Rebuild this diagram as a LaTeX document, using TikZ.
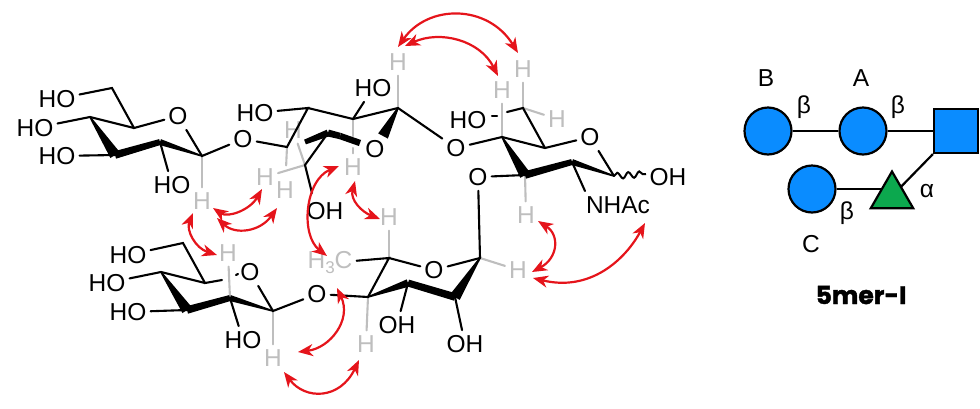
\documentclass[tikz,border=0pt]{standalone}
\usepackage{fontspec}
\setmainfont{Liberation Sans}
\newfontfamily\heavyfont[FakeBold=1.6]{Poppins Bold}
\usetikzlibrary{calc,arrows.meta,decorations.pathmorphing,shapes.geometric,backgrounds}
\definecolor{hgray}{HTML}{BEBEBE}
\definecolor{nred}{HTML}{E5141B}
\definecolor{gblue}{HTML}{0A8CFF}
\definecolor{ggreen}{HTML}{0CA84E}
\tikzset{
  atomlabel/.style={inner xsep=4pt,inner ysep=5pt,font=\fontsize{24.5}{25}\selectfont,text=black},
  hlabel/.style={atomlabel,text=hgray},
  bondline/.style={draw=black,line width=2.1pt,line cap=round},
  grayline/.style={draw=hgray,line width=2.1pt,line cap=round},
  noe/.style={draw=nred,line width=2.2pt,{Stealth[length=15pt,width=12pt,inset=4.5pt]}-{Stealth[length=15pt,width=12pt,inset=4.5pt]}},
  glabel/.style={inner sep=0pt,font=\fontsize{24.5}{25}\selectfont},
  glink/.style={draw=black,line width=2.2pt},
  mono/.style={draw=black,line width=2.2pt,fill=gblue},
}
\newcommand\taper[4]{\fill[black] ($(#1)!#2!90:(#3)$) -- ($(#1)!#2!-90:(#3)$) -- ($(#3)!#4!90:(#1)$) -- ($(#3)!#4!-90:(#1)$) -- cycle;}
\begin{document}
\begin{tikzpicture}[x=1pt,y=-1pt]
\useasboundingbox (0,0) rectangle (980,408);

% ---------- atoms: ring B
\coordinate (bA) at (112,88);
\coordinate (b5) at (134,128);
\coordinate (b1) at (202,156);
\coordinate (b2) at (160,142);
\coordinate (b3) at (115,155);
\coordinate (b4) at (90,117);
\node[atomlabel] (bO) at (178,116) {O};
\node[atomlabel] (bH1) at (57,99) {HO};
\node[atomlabel] (bH2) at (35,128) {HO};
\node[atomlabel] (bH3) at (57,156) {HO};
\node[atomlabel] (bH4) at (172,185) {HO};
\node[atomlabel] (gO1) at (243,139) {O};
\node[hlabel] (bH) at (202,201) {H};

% ---------- atoms: ring A
\coordinate (a4) at (287,147);
\coordinate (a3) at (308,108);
\coordinate (a2) at (353,119);
\coordinate (a1) at (398,108);
\coordinate (a5) at (305,165);
\coordinate (a5s) at (328,133);
\coordinate (aB1) at (305,142);
\coordinate (aB2) at (340,136);
\coordinate (aB3) at (360,143);
\coordinate (aW) at (383,136);
\coordinate (aOHe) at (312,193);
\node[atomlabel] (aOr) at (375,149) {O};
\node[atomlabel] (aHO1) at (255,113) {HO};
\node[atomlabel] (aHO2) at (373,88) {HO};
\node[atomlabel] (aOH) at (325,211) {OH};
\node[hlabel] (aH1) at (398,62) {H};
\node[hlabel] (aH2) at (353,167) {H};
\node[hlabel] (aH3) at (293,130) {H};
\node[hlabel] (aH4) at (285,190) {H};
\node[hlabel] (aH5) at (265,177) {H};
\node[atomlabel] (gO2) at (456,148) {O};

% ---------- atoms: GlcNAc ring
\coordinate (n4) at (502,137);
\coordinate (n3) at (525,175);
\coordinate (n2) at (572,162);
\coordinate (n1) at (614,176);
\coordinate (n5) at (545,148);
\coordinate (n6) at (523,108);
\coordinate (n7) at (507,112);
\coordinate (n8) at (497,116);
\coordinate (n9) at (492,116);
\coordinate (nW) at (646,174);
\coordinate (nNe) at (585,191);
\node[atomlabel] (nO) at (590,137) {O};
\node[atomlabel] (nHO) at (468,120) {HO};
\node[atomlabel] (nOH) at (668,177) {OH};
\node[atomlabel] (nNH) at (618,205) {NHAc};
\node[atomlabel] (gO3) at (478,177) {O};
\node[hlabel] (nH1) at (502,90) {H};
\node[hlabel] (nH2) at (523,69) {H};
\node[hlabel] (nH3) at (557,119) {H};
\node[hlabel] (nH4) at (526,215) {H};

% ---------- atoms: fucose ring
\coordinate (f1) at (480,258);
\coordinate (f5) at (389,258);
\coordinate (f4) at (368,297);
\coordinate (f3) at (408,283);
\coordinate (f2) at (455,297);
\node[atomlabel] (fO) at (434,270) {O};
\node[atomlabel] (fOH1) at (397,325) {OH};
\node[atomlabel] (fOH2) at (465,344) {OH};
\node[hlabel] (fCH) at (330,263) {H\raisebox{-5pt}{\fontsize{17}{17}\selectfont 3}C};
\node[hlabel] (fH1) at (518,270) {H};
\node[hlabel] (fH5) at (389,217) {H};
\node[hlabel] (fH4) at (366,344) {H};
\node[atomlabel] (gO4) at (317,294) {O};

% ---------- atoms: ring C
\coordinate (cA) at (183,243);
\coordinate (c5) at (205,283);
\coordinate (c1) at (273,311);
\coordinate (c2) at (230,298);
\coordinate (c3) at (187,310);
\coordinate (c4) at (161,272);
\coordinate (cGa) at (222,280);
\coordinate (cGb) at (236,275);
\coordinate (cGc) at (238,274);
\node[atomlabel] (cO) at (250,272) {O};
\node[atomlabel] (cH1) at (128,255) {HO};
\node[atomlabel] (cH2) at (107,283) {HO};
\node[atomlabel] (cH3) at (128,312) {HO};
\node[atomlabel] (cH4) at (243,340) {HO};
\node[hlabel] (cHa) at (228,253) {H};
\node[hlabel] (cHb) at (273,358) {H};

% ---------- gray bonds
\draw[grayline] (b1) -- (bH);
\draw[grayline] (a1) -- (aH1);
\draw[grayline] (a2) -- ($(a2)+(0,17)$);
\draw[grayline] ($(a2)+(0,29)$) -- (aH2);
\draw[grayline] (a5) -- (aH3);
\draw[grayline,shorten >=11pt] (a4) -- (aH4);
\draw[grayline] (a5) -- (aH5);
\draw[grayline] (n4) -- (nH1);
\draw[grayline] (n6) -- (nH2);
\draw[grayline] (n6) -- (nH3);
\draw[grayline] (n3) -- (nH4);
\draw[grayline] (f1) -- (fH1);
\draw[grayline] (f5) -- (fH5);
\draw[grayline] (f4) -- (fH4);
\draw[grayline] (c2) -- (cHa);
\draw[grayline] (c1) -- (cHb);

% ---------- black bonds
\draw[bondline] (bH1) -- (bA) -- (b5) -- (bO) -- (b1) -- (gO1);
\draw[bondline] (b5) -- (b4) -- (bH2);
\draw[bondline] (bH3) -- (b3);
\draw[bondline] (b2) -- (bH4);
\taper{b4}{0.8pt}{b3}{5.5pt}
\taper{b3}{3.8pt}{b2}{3pt}
\taper{b2}{3pt}{b1}{0.8pt}

\draw[bondline] (gO1) -- (a4) -- (a3) -- (aHO1);
\draw[bondline] (a3) -- (a2) -- (a1) -- (gO2);
\draw[bondline] (a2) -- (aHO2);
\draw[bondline] (a5s) -- (a5) -- (aOHe);
\taper{aB1}{2.5pt}{a5s}{3.5pt}
\taper{a5s}{3.5pt}{aB2}{3.2pt}
\taper{aB2}{3.2pt}{aB3}{3.2pt}
\taper{a1}{0.8pt}{aW}{5.5pt}

\draw[bondline] (gO2) -- (n4) -- (n5) -- (nO) -- (n1);
\draw[bondline] (n5) -- (n6) -- (n7);
\draw[bondline] (n8) -- (n9);
\draw[bondline] (n3) -- (gO3) -- (f1);
\draw[bondline] (n2) -- (nNe);
\draw[line width=2pt,decorate,decoration={snake,amplitude=3pt,segment length=11pt}] (n1) -- (nW);
\taper{n4}{0.8pt}{n3}{5.5pt}
\taper{n3}{3.8pt}{n2}{3pt}
\taper{n2}{3pt}{n1}{0.8pt}

\draw[bondline] (gO4) -- (f4) -- (f5) -- (fCH);
\draw[bondline] (f5) -- (fO) -- (f1);
\draw[bondline] (f3) -- (fOH1);
\draw[bondline] (f2) -- (fOH2);
\taper{f4}{0.8pt}{f3}{3.8pt}
\taper{f3}{3.5pt}{f2}{3.8pt}
\taper{f2}{5.5pt}{f1}{0.8pt}

\draw[bondline] (cH1) -- (cA) -- (c5) -- (cGa);
\draw[bondline] (cGb) -- (cGc);
\draw[bondline] (c5) -- (c4) -- (cH2);
\draw[bondline] (cH3) -- (c3);
\draw[bondline] (c2) -- (cH4);
\draw[bondline] (cO) -- (c1) -- (gO4);
\taper{c4}{0.8pt}{c3}{5.5pt}
\taper{c3}{3.8pt}{c2}{3pt}
\taper{c2}{3pt}{c1}{0.8pt}

% ---------- NOE arrows
\coordinate (e1a) at (398,47); \coordinate (e1b) at (518,53);
\coordinate (e2a) at (405,46); \coordinate (e2b) at (498,76);
\coordinate (e3a) at (355,181); \coordinate (e3b) at (380,219);
\coordinate (e4a) at (213,208); \coordinate (e4b) at (262,189);
\coordinate (e5a) at (217,218); \coordinate (e5b) at (277,208);
\coordinate (e6a) at (193,213); \coordinate (e6b) at (217,255);
\coordinate (e7a) at (339,166); \coordinate (e7b) at (327,256);
\coordinate (e8a) at (337,288); \coordinate (e8b) at (298,352);
\coordinate (e9a) at (284,372); \coordinate (e9b) at (359,360);
\coordinate (e10a) at (538,221); \coordinate (e10b) at (532,272);
\coordinate (e11a) at (533,278); \coordinate (e11b) at (645,223);
\draw[noe] (e1a) .. controls (428,4) and (488,4) .. (e1b);
\draw[noe] (e2a) .. controls (440,30) and (480,40) .. (e2b);
\draw[noe] (e3a) .. controls (350,200) and (362,212) .. (e3b);
\draw[noe] (e4a) .. controls (228,218) and (250,210) .. (e4b);
\draw[noe] (e5a) .. controls (235,235) and (260,232) .. (e5b);
\draw[noe] (e6a) .. controls (186,230) and (195,248) .. (e6b);
\draw[noe] (e7a) .. controls (305,180) and (300,235) .. (e7b);
\draw[noe] (e8a) .. controls (352,320) and (330,348) .. (e8b);
\draw[noe] (e9a) .. controls (305,400) and (340,400) .. (e9b);
\draw[noe] (e10a) .. controls (560,235) and (558,258) .. (e10b);
\draw[noe] (e11a) .. controls (590,292) and (625,260) .. (e11b);

% ---------- glycan
\node[mono,circle,minimum size=47pt,inner sep=0pt] (B) at (768,131) {};
\node[mono,circle,minimum size=47pt,inner sep=0pt] (A) at (863,131) {};
\node[mono,circle,minimum size=47pt,inner sep=0pt] (C) at (812,189) {};
\node[mono,minimum size=44pt,inner sep=0pt] (S) at (956,131) {};
\node[draw=black,line width=2.2pt,fill=ggreen,regular polygon,regular polygon sides=3,minimum size=49pt,inner sep=0pt] (T) at (892,196) {};
\begin{scope}[on background layer]
\draw[glink] (B) -- (A);
\draw[glink] (A) -- (S);
\draw[glink] (C.east) -- (C.east -| T.center);
\draw[glink] (T.center) -- (S.south west);
\end{scope}
\node[glabel] (lB) at (766,78) {B};
\node[glabel] (lA) at (861,78) {A};
\node[glabel] (lC) at (811,244) {C};
\node[glabel] (b1l) at (804,107) {β};
\node[glabel] (b2l) at (898,107) {β};
\node[glabel] (b3l) at (847,213) {β};
\node[glabel] (al) at (927,191) {α};
\node[inner sep=0pt,font=\fontsize{25}{26}\selectfont\heavyfont] (title) at (861,295) {5mer-I};
\end{tikzpicture}
\end{document}
